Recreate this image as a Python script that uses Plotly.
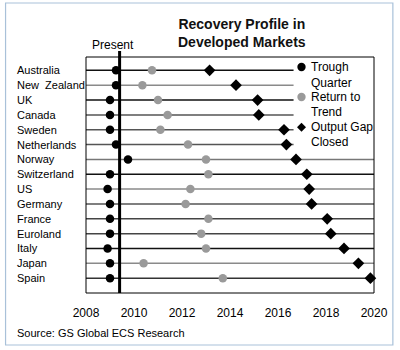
import plotly.graph_objects as go

# ---------------- data ----------------
countries = ["Australia", "New  Zealand", "UK", "Canada", "Sweden", "Netherlands", "Norway",
             "Switzerland", "US", "Germany", "France", "Euroland", "Italy", "Japan", "Spain"]
trough_quarter = [2009.25, 2009.25, 2009.0, 2009.0, 2009.0, 2009.25, 2009.75,
                  2009.0, 2008.9, 2009.0, 2009.0, 2009.0, 2008.9, 2009.0, 2009.0]
return_to_trend = [2010.75, 2010.35, 2011.0, 2011.4, 2011.1, 2012.25, 2013.0,
                   2013.1, 2012.35, 2012.15, 2013.1, 2012.8, 2013.0, 2010.4, 2013.7]
output_gap_closed = [2013.15, 2014.25, 2015.15, 2015.2, 2016.25, 2016.35, 2016.75,
                     2017.2, 2017.3, 2017.4, 2018.05, 2018.2, 2018.75, 2019.35, 2019.85]
present_year = 2009.4
x_ticks = [2008, 2010, 2012, 2014, 2016, 2018, 2020]
series_names = [["Trough", "Quarter"], ["Return to", "Trend"], ["Output Gap", "Closed"]]

# ---------------- styles ----------------
row_line_colors = ["#111", "#8a8a8a", "#111", "#555", "#555", "#555", "#777",
                   "#111", "#8a8a8a", "#555", "#444", "#444", "#111", "#8a8a8a", "#333"]
FONT = "Arial, Liberation Sans, sans-serif"
GRAY = "#9a9a9a"

W, H = 400, 350
L, R, T, B = 86, 24, 57, 57
PW, PH = W - L - R, H - T - B


def px_x(x):
    return (x - L) / PW


def px_y(y):
    return (H - B - y) / PH


ypos = list(range(len(countries)))
fig = go.Figure()

for i, c in enumerate(countries):
    fig.add_trace(go.Scatter(x=[x_ticks[0], x_ticks[-1]], y=[ypos[i], ypos[i]], mode="lines",
                             line=dict(color=row_line_colors[i], width=1.5),
                             showlegend=False, hoverinfo="skip"))

fig.add_trace(go.Scatter(x=return_to_trend, y=ypos, mode="markers",
                         marker=dict(symbol="circle", size=8.5, color=GRAY),
                         showlegend=False, cliponaxis=False))
fig.add_trace(go.Scatter(x=output_gap_closed, y=ypos, mode="markers",
                         marker=dict(symbol="diamond", size=9, color="black"),
                         showlegend=False, cliponaxis=False))
fig.add_trace(go.Scatter(x=trough_quarter, y=ypos, mode="markers",
                         marker=dict(symbol="circle", size=8.5, color="black"),
                         showlegend=False, cliponaxis=False))

shapes = [
    # legend background
    dict(type="rect", xref="paper", yref="paper", x0=px_x(295), x1=1, y0=px_y(150), y1=1,
         fillcolor="white", line=dict(width=0), layer="above"),
    # plot border
    dict(type="rect", xref="paper", yref="paper", x0=0, x1=1, y0=0, y1=1,
         line=dict(color="black", width=1), layer="above"),
    # present line
    dict(type="line", xref="x", yref="paper", x0=present_year, x1=present_year,
         y0=0, y1=px_y(51), line=dict(color="black", width=3), layer="above"),
    # outer frame
    dict(type="rect", xref="paper", yref="paper", x0=px_x(5), x1=px_x(395),
         y0=px_y(345), y1=px_y(3), line=dict(color="#a9c1d9", width=1.2), layer="above"),
]

# legend keys (manual)
kx = 303
r = 4.2
for yy, col in [(67, "black"), (97, GRAY)]:
    shapes.append(dict(type="circle", xref="paper", yref="paper",
                       x0=px_x(kx - r), x1=px_x(kx + r), y0=px_y(yy + r), y1=px_y(yy - r),
                       fillcolor=col, line=dict(width=0), layer="above"))
d = 4.5
dy = 127.3
shapes.append(dict(type="path", xref="paper", yref="paper",
                   path=(f"M {px_x(kx - d)},{px_y(dy)} L {px_x(kx)},{px_y(dy - d)} "
                         f"L {px_x(kx + d)},{px_y(dy)} L {px_x(kx)},{px_y(dy + d)} Z"),
                   fillcolor="black", line=dict(width=0), layer="above"))

annotations = []
for i, c in enumerate(countries):
    annotations.append(dict(x=px_x(15), xref="paper", y=ypos[i], yref="y", text=c,
                            showarrow=False, xanchor="left", yanchor="middle",
                            font=dict(family=FONT, size=11, color="black")))

annotations += [
    dict(x=px_x(243), y=px_y(33.5), xref="paper", yref="paper",
         text="<b>Recovery Profile in<br>Developed Markets</b>", showarrow=False,
         xanchor="center", yanchor="middle", font=dict(family=FONT, size=14, color="#111")),
    dict(x=px_x(113), y=px_y(45), xref="paper", yref="paper", text="Present",
         showarrow=False, xanchor="center", yanchor="middle",
         font=dict(family=FONT, size=12, color="black")),
    dict(x=px_x(15), y=px_y(333), xref="paper", yref="paper",
         text="Source: GS Global ECS Research", showarrow=False, xanchor="left",
         yanchor="middle", font=dict(family=FONT, size=11, color="black")),
]

legend_line_y = [[67, 82.5], [97, 112.3], [127.3, 142]]
for lines, ys in zip(series_names, legend_line_y):
    for txt, yy in zip(lines, ys):
        annotations.append(dict(x=px_x(311), y=px_y(yy), xref="paper", yref="paper",
                                text=txt, showarrow=False, xanchor="left", yanchor="middle",
                                font=dict(family=FONT, size=12, color="black")))

fig.update_layout(
    width=W, height=H,
    margin=dict(l=L, r=R, t=T, b=B),
    paper_bgcolor="white", plot_bgcolor="white",
    shapes=shapes, annotations=annotations,
    showlegend=False,
    xaxis=dict(range=[x_ticks[0], x_ticks[-1]], tickvals=x_ticks, showgrid=False,
               zeroline=False, showline=False, ticks="", ticklabelstandoff=11,
               tickfont=dict(family=FONT, size=12, color="black")),
    yaxis=dict(range=[len(countries), -0.9], showgrid=False, zeroline=False,
               showticklabels=False, showline=False, ticks=""),
)

fig.write_html("out.html")
